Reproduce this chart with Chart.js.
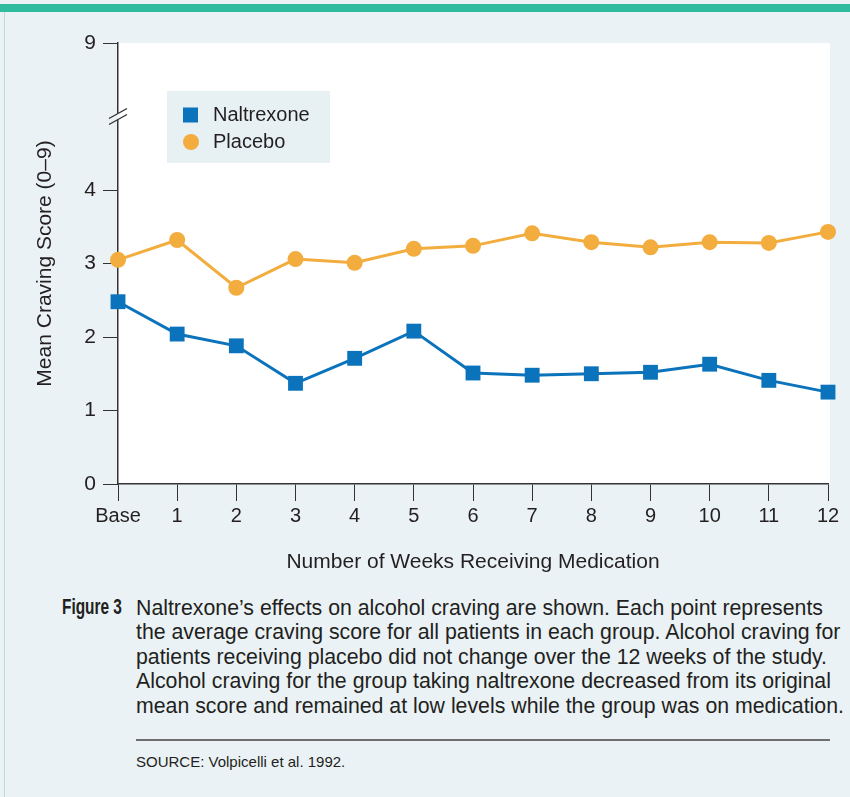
<!DOCTYPE html>
<html>
<head>
<meta charset="utf-8">
<script src="https://cdn.jsdelivr.net/npm/chart.js@4.4.0/dist/chart.umd.min.js"></script>
<style>
  html, body { margin: 0; padding: 0; }
  body {
    width: 850px; height: 797px; position: relative; overflow: hidden;
    background: #eaf2f5; color: #231f20;
    font-family: "Liberation Sans", Arial, sans-serif;
  }
  #topbar { position: absolute; left: 0; top: 4px; width: 850px; height: 8px; background: #2fbba0; }
  #leftline { position: absolute; left: 4px; top: 12px; width: 1px; height: 785px; background: #bcdcd6; }
  #wrap { position: absolute; left: 0; top: 0; width: 850px; height: 590px; }
  .fig {
    position: absolute; left: 62px; top: 595px; font-weight: bold;
    font-size: 22px; line-height: 24.4px; transform: scaleX(0.7); transform-origin: left top;
  }
  .cap {
    position: absolute; left: 136px; top: 596px; white-space: nowrap;
    font-size: 21.3px; line-height: 24.4px;
  }
  .rule { position: absolute; left: 136px; top: 739px; width: 694px; height: 2px; background: #6e6e6e; }
  .src { position: absolute; left: 136px; top: 753px; font-size: 15px; line-height: 18px; }
</style>
</head>
<body>
<div id="topbar"></div>
<div id="leftline"></div>
<div id="wrap"><canvas id="cravingChart" width="850" height="590"></canvas></div>

<div class="fig">Figure 3</div>
<div class="cap">Naltrexone’s effects on alcohol craving are shown. Each point represents<br>the average craving score for all patients in each group. Alcohol craving for<br>patients receiving placebo did not change over the 12 weeks of the study.<br>Alcohol craving for the group taking naltrexone decreased from its original<br>mean score and remained at low levels while the group was on medication.</div>
<div class="rule"></div>
<div class="src">SOURCE: Volpicelli et al. 1992.</div>

<script>
    // values
    var weekLabels = ['Base', '1', '2', '3', '4', '5', '6', '7', '8', '9', '10', '11', '12'];
    var naltrexone = [2.48, 2.04, 1.88, 1.37, 1.71, 2.08, 1.51, 1.48, 1.50, 1.52, 1.63, 1.41, 1.25];
    var placebo = [3.05, 3.32, 2.67, 3.06, 3.01, 3.20, 3.24, 3.41, 3.29, 3.22, 3.29, 3.28, 3.43];

    // y axis is broken between 4 and 9: the "9" tick sits at position 6
    var yTickValues = [0, 1, 2, 3, 4, 6];
    var yTickLabels = ['0', '1', '2', '3', '4', '9'];
    var yBreakAt = 5;

    var ink = '#231f20';
    var axisColor = '#333333';
    var bgColor = '#eaf2f5';

    var plotBackground = {
        id: 'plotBackground',
        beforeDraw: function(chart) {
            var a = chart.chartArea, ctx = chart.ctx;
            ctx.save();
            ctx.fillStyle = '#ffffff';
            ctx.fillRect(a.left, a.top, a.right - a.left + 2, a.bottom - a.top);
            ctx.restore();
        }
    };

    var axisBreak = {
        id: 'axisBreak',
        afterDraw: function(chart) {
            var ctx = chart.ctx, y = chart.scales.y.getPixelForValue(yBreakAt), x = chart.scales.y.right;
            ctx.save();
            ctx.fillStyle = bgColor;
            ctx.fillRect(x - 3, y - 3, 3, 6);
            ctx.fillStyle = '#ffffff';
            ctx.fillRect(x, y - 3, 3, 6);
            ctx.strokeStyle = axisColor;
            ctx.lineWidth = 1.4;
            [-3, 3].forEach(function(d) {
                ctx.beginPath();
                ctx.moveTo(x - 9, y + d + 5);
                ctx.lineTo(x + 9, y + d - 5);
                ctx.stroke();
            });
            ctx.restore();
        }
    };

    var legendBox = {
        id: 'legendBox',
        afterDraw: function(chart) {
            var ctx = chart.ctx, ds = chart.data.datasets;
            ctx.save();
            ctx.fillStyle = '#e7f0f3';
            ctx.fillRect(167, 91, 163, 72);
            ctx.fillStyle = ds[0].backgroundColor;
            ctx.fillRect(183, 107.5, 15, 15);
            ctx.fillStyle = ds[1].backgroundColor;
            ctx.beginPath();
            ctx.arc(191, 142, 8, 0, Math.PI * 2);
            ctx.fill();
            ctx.fillStyle = ink;
            ctx.font = '20px "Liberation Sans", Arial, sans-serif';
            ctx.textBaseline = 'middle';
            ctx.fillText(ds[0].label, 213, 115);
            ctx.fillText(ds[1].label, 213, 142);
            ctx.restore();
        }
    };

    var ctx = document.getElementById('cravingChart').getContext('2d');
    var cravingChart = new Chart(ctx, {
        type: 'line',
        data: {
            labels: weekLabels,
            datasets: [{
                label: 'Naltrexone',
                data: naltrexone,
                borderColor: '#0b73bb',
                backgroundColor: '#0b73bb',
                borderWidth: 3,
                pointStyle: 'rect',
                pointRadius: 10.5,
                pointBorderWidth: 0,
                tension: 0,
                clip: false
            }, {
                label: 'Placebo',
                data: placebo,
                borderColor: '#f3ad3e',
                backgroundColor: '#f3ad3e',
                borderWidth: 3,
                pointStyle: 'circle',
                pointRadius: 8,
                pointBorderWidth: 0,
                tension: 0,
                clip: false
            }]
        },
        options: {
            responsive: false,
            animation: false,
            layout: { padding: { top: 43, right: 22, bottom: 0, left: 0 } },
            scales: {
                x: {
                    type: 'category',
                    offset: false,
                    grid: { drawOnChartArea: false, tickLength: 17, color: axisColor, offset: false },
                    border: { color: axisColor, width: 1.5 },
                    ticks: { color: ink, font: { size: 20 }, padding: 3, maxRotation: 0, autoSkip: false },
                    title: {
                        display: true,
                        text: 'Number of Weeks Receiving Medication',
                        color: ink,
                        font: { size: 21 },
                        padding: { top: 0, bottom: 15.4 }
                    },
                    afterFit: function(s) { s.height = 106; }
                },
                y: {
                    min: 0,
                    max: 6,
                    afterBuildTicks: function(s) {
                        s.ticks = yTickValues.map(function(v) { return { value: v }; });
                    },
                    grid: { drawOnChartArea: false, tickLength: 15, color: axisColor },
                    border: { color: axisColor, width: 1.5 },
                    ticks: {
                        color: ink,
                        font: { size: 21 },
                        padding: 7,
                        callback: function(value) { return yTickLabels[yTickValues.indexOf(value)]; }
                    },
                    title: {
                        display: true,
                        text: 'Mean Craving Score (0–9)',
                        color: ink,
                        font: { size: 21 },
                        padding: { top: 32.4, bottom: 0 }
                    },
                    afterFit: function(s) { s.width = 118; }
                }
            },
            plugins: {
                legend: { display: false },
                tooltip: { enabled: false }
            }
        },
        plugins: [plotBackground, axisBreak, legendBox]
    });
</script>
</body>
</html>
